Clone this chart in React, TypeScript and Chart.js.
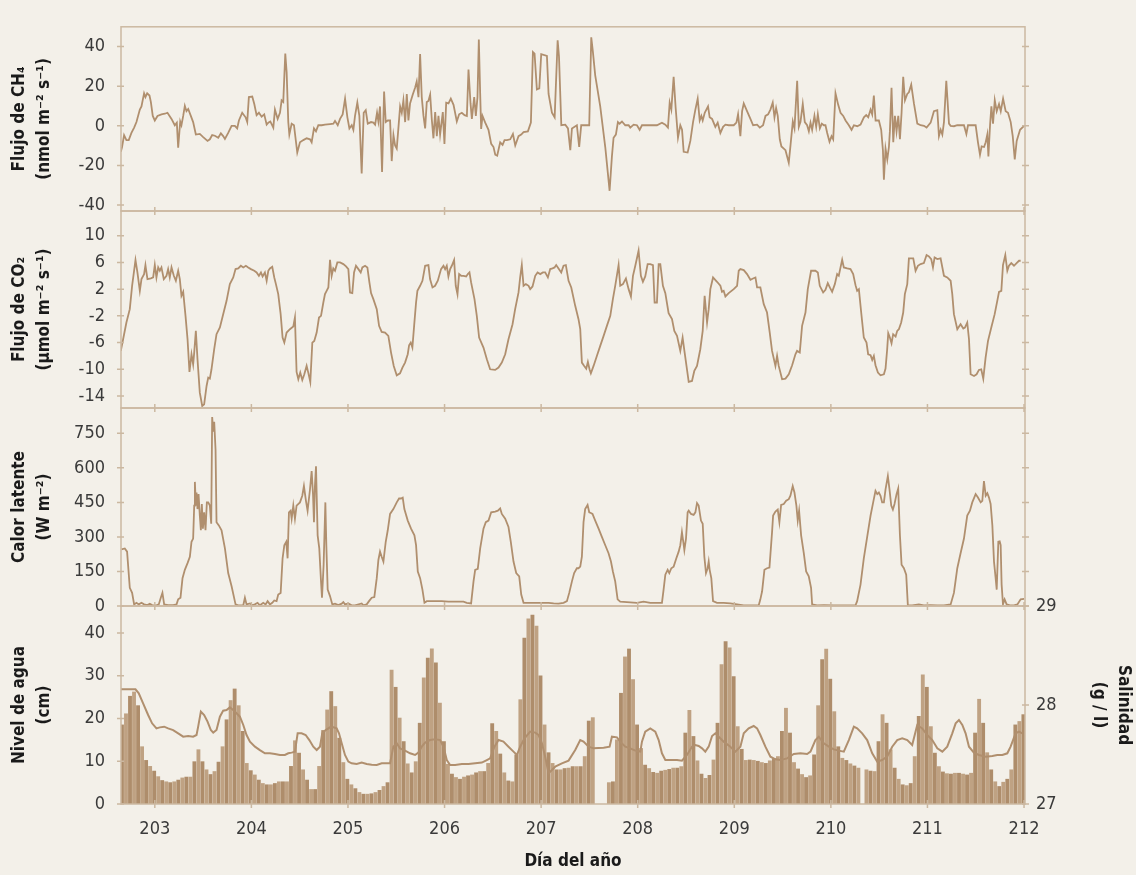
import React, { useEffect, useRef } from 'react';
import { Chart, registerables } from 'chart.js';

Chart.register(...registerables);

// ---------------- DATA ----------------
const dayTicks = [203, 204, 205, 206, 207, 208, 209, 210, 211, 212];
const ch4Ticks = [-40, -20, 0, 20, 40];
const co2Ticks = [-14, -10, -6, -2, 2, 6, 10];
const leTicks = [0, 150, 300, 450, 600, 750];
const waterTicks = [0, 10, 20, 30, 40];
const salTicks = [27, 28, 29];

// CH4 flux (nmol m-2 s-1)
const ch4Day = [
  202.648, 202.661, 202.682, 202.706, 202.73, 202.758, 202.786, 202.81, 202.845, 202.862, 202.889, 202.903, 202.921, 202.945, 202.959, 202.979,
  203.0, 203.028, 203.069, 203.104, 203.131, 203.173, 203.207, 203.228, 203.242, 203.263, 203.276, 203.294, 203.311, 203.328, 203.346, 203.373,
  203.397, 203.425, 203.466, 203.501, 203.546, 203.57, 203.594, 203.622, 203.657, 203.684, 203.708, 203.726, 203.76, 203.795, 203.829, 203.853,
  203.871, 203.905, 203.94, 203.957, 203.974, 204.009, 204.03, 204.054, 204.078, 204.106, 204.133, 204.158, 204.175, 204.196, 204.227, 204.244,
  204.272, 204.296, 204.313, 204.33, 204.351, 204.365, 204.382, 204.393, 204.417, 204.441, 204.475, 204.503, 204.538, 204.572, 204.607, 204.624,
  204.648, 204.669, 204.693, 204.728, 204.762, 204.814, 204.849, 204.866, 204.894, 204.918, 204.945, 204.97, 204.994, 205.015, 205.039, 205.056,
  205.073, 205.097, 205.118, 205.142, 205.163, 205.184, 205.205, 205.239, 205.263, 205.281, 205.301, 205.315, 205.332, 205.353, 205.374, 205.391,
  205.412, 205.436, 205.453, 205.471, 205.488, 205.505, 205.522, 205.54, 205.557, 205.574, 205.592, 205.609, 205.626, 205.643, 205.671, 205.695,
  205.712, 205.73, 205.747, 205.764, 205.782, 205.799, 205.816, 205.833, 205.851, 205.868, 205.885, 205.903, 205.92, 205.937, 205.954, 205.982,
  205.999, 206.017, 206.041, 206.065, 206.093, 206.127, 206.151, 206.179, 206.207, 206.231, 206.248, 206.269, 206.283, 206.307, 206.324, 206.341,
  206.355, 206.369, 206.379, 206.393, 206.421, 206.455, 206.483, 206.507, 206.525, 206.545, 206.576, 206.601, 206.621, 206.646, 206.68, 206.708,
  206.732, 206.766, 206.794, 206.818, 206.863, 206.894, 206.915, 206.932, 206.956, 206.981, 207.001, 207.06, 207.077, 207.112, 207.14, 207.171,
  207.185, 207.209, 207.25, 207.278, 207.302, 207.319,
  207.37, 207.394, 207.415, 207.456, 207.498, 207.519, 207.536, 207.56, 207.612, 207.664, 207.709, 207.733, 207.75, 207.774, 207.795, 207.812,
  207.837, 207.871, 207.906, 207.923, 207.958, 207.992, 208.02, 208.044, 208.096, 208.199, 208.251, 208.286, 208.313, 208.331, 208.348, 208.372,
  208.393, 208.417, 208.441, 208.459, 208.476, 208.517, 208.545, 208.573, 208.597, 208.621, 208.642, 208.659, 208.673, 208.694, 208.728, 208.745,
  208.77, 208.804, 208.828, 208.856, 208.884, 208.908, 208.942, 208.994, 209.022, 209.039, 209.063, 209.081, 209.098, 209.132, 209.167, 209.195,
  209.236, 209.264, 209.298, 209.323, 209.35, 209.374, 209.398, 209.416, 209.433, 209.45, 209.471, 209.488, 209.53, 209.564, 209.582, 209.606,
  209.623, 209.651, 209.668, 209.685, 209.709, 209.73, 209.754, 209.772, 209.789, 209.806, 209.83, 209.848, 209.865, 209.886, 209.906, 209.927,
  209.944, 209.962, 209.986, 210.007, 210.024, 210.048, 210.076, 210.1, 210.128, 210.152, 210.186, 210.214, 210.238, 210.273, 210.307, 210.342,
  210.366, 210.387, 210.411, 210.428, 210.445, 210.463, 210.497, 210.521, 210.539, 210.549, 210.566, 210.584, 210.601, 210.611, 210.628, 210.646,
  210.663, 210.68, 210.698, 210.715, 210.732, 210.749, 210.767, 210.791, 210.808, 210.832, 210.86, 210.895, 210.929, 210.964, 210.991, 211.033,
  211.067, 211.102, 211.119, 211.137, 211.154, 211.171, 211.195, 211.223, 211.24, 211.275, 211.309, 211.378, 211.403, 211.42, 211.499, 211.523,
  211.544, 211.561, 211.586, 211.603, 211.62, 211.631, 211.648, 211.662, 211.679, 211.697, 211.717, 211.741, 211.759, 211.783, 211.81, 211.834,
  211.862, 211.883, 211.904, 211.924, 211.959, 212.0,
];
const ch4Flux = [
  -13.1, -10.7, -4.7, -7.2, -7.2, -3.6, -0.9, 1.9, 8.2, 9.8, 16.4, 14.5, 16.4, 15.3, 12.1, 5.0,
  2.7, 5.0, 5.8, 6.1, 6.6, 3.5, 0.3, 1.6, -11.0, 2.2, 0.3, 5.0, 10.1, 7.4, 8.5, 5.0,
  1.9, -4.4, -4.1, -5.7, -7.6, -6.8, -4.7, -5.0, -6.0, -3.8, -5.2, -6.6, -3.6, 0, 0, -1.3,
  2.7, 6.6, 4.3, 1.9, 14.5, 14.8, 11.0, 5.4, 6.6, 4.6, 5.8, 0.6, 1.6, 2.2, -0.9, 8.2,
  3.5, 6.6, 12.9, 12.1, 36.5, 27.1, 1.9, -4.4, 1.1, 0.3, -13.5, -8.3, -7.2, -6.3, -6.8, -8.3,
  -1.3, -2.8, 0.3, 0.3, 0.6, 0.9, 1.1, 2.5, 0.3, 3.5, 5.8, 13.7, 4.3, -1.3, 0.3, -2.0,
  5.0, 11.7, 5.0, -24.1, 6.6, 7.9, 1.1, 1.9, 1.6, 0.6, 6.6, 2.2, 9.8, -23.3, 17.3, 1.9,
  2.7, 2.7, -17.8, -4.7, -9.9, -11.5, -1.3, 9.8, 6.6, 12.9, 1.9, 16.1, 2.7, 11.3, 15.8, 19.2,
  22.4, 14.5, 36.2, 14.5, 5.0, -1.3, 12.0, 12.6, 15.8, 3.2, -6.3, 6.9, -5.2, 5.0, -4.4, 6.9,
  -9.1, 11.7, 11.3, 13.7, 10.6, 2.2, 5.8, 6.6, 5.4, 5.0, 28.4, 11.3, 3.5, 14.5, 5.0, 14.5,
  43.6, 16.1, -1.6, 5.0, 1.6, -2.0, -9.1, -10.7, -14.6, -15.1, -8.3, -9.6, -7.2, -7.2, -6.8, -4.1,
  -9.9, -5.2, -4.4, -3.2, -2.8, 1.6, 37.3, 36.5, 18.4, 18.9, 36.2, 35.3, 16.1, 6.6, 4.3, 43.2,
  35.0, 0.3, 0.6, -1.3, -12.3, -1.3,
  0.3, -10.7, 0.3, 0.3, 0.3, 44.7, 37.3, 25.5, 9.8, -10.7, -32.8, -15.4, -6.0, -4.4, 1.9, 1.1,
  2.2, 0.3, 0.3, -0.9, 0.6, 0.3, -2.0, 0.3, 0.3, 0.3, 1.6, 0.6, -0.9, 11.7, 8.2, 24.7,
  9.0, -6.0, 0.3, -2.0, -13.1, -13.5, -7.6, 1.9, 8.2, 13.7, 2.7, 5.0, 2.7, 6.6, 9.8, 4.3,
  3.5, -0.5, 1.6, -3.6, -0.5, 0.6, 0.3, 0.3, 1.6, 5.8, -5.2, 7.4, 11.3, 7.4, 3.5, 0.3,
  0.6, -0.9, 0.3, 5.0, 5.8, 8.2, 11.7, 4.3, 9.0, 5.0, -6.8, -10.4, -12.3, -18.6, -9.9, 2.2,
  -1.3, 22.7, -0.5, 1.9, 11.0, 1.9, 0.3, -2.8, 1.6, -2.0, 5.0, -0.5, 5.8, -1.3, 1.1, 0.3,
  0.3, -3.6, -8.0, -5.2, -6.8, 16.4, 10.6, 6.6, 5.0, 2.7, 0.3, -2.0, 0.3, -0.2, 0.6, 4.3,
  5.4, 4.3, 8.2, 5.8, 15.3, 2.7, 2.7, -2.0, -12.3, -27.2, -11.5, -17.0, -10.7, -2.8, 19.2, -8.3,
  5.0, -2.8, 5.0, -6.8, 6.6, 24.7, 12.9, 16.1, 16.9, 20.8, 11.3, 1.1, 0.3, 0, -0.9, 1.6,
  7.4, 7.9, -5.2, -2.0, -4.4, 1.9, 22.7, 1.1, 0, -0.2, 0.3, 0.3, -4.1, 0.3, 0.3, -8.3,
  -14.6, -10.4, -10.7, -8.3, -4.4, -15.4, 0.3, 9.8, 1.1, 12.9, 7.4, 11.0, 7.4, 13.7, 7.4, 6.6,
  1.9, -5.2, -17.0, -7.6, -2.0, 0,
];

// CO2 flux (µmol m-2 s-1)
const co2Day = [
  202.648, 202.672, 202.706, 202.741, 202.765, 202.8, 202.82, 202.845, 202.862, 202.889, 202.903, 202.924, 202.959, 202.983, 203.0, 203.017,
  203.035, 203.052, 203.069, 203.093, 203.121, 203.138, 203.155, 203.173, 203.197, 203.218, 203.242, 203.259, 203.276, 203.294, 203.318, 203.339,
  203.359, 203.38, 203.397, 203.408, 203.425, 203.442, 203.466, 203.491, 203.511, 203.536, 203.553, 203.57, 203.587, 203.615, 203.639, 203.674,
  203.708, 203.743, 203.777, 203.812, 203.836, 203.864, 203.891, 203.916, 203.943, 203.967, 203.995, 204.03, 204.054, 204.078, 204.099, 204.116,
  204.14, 204.158, 204.175, 204.192, 204.216, 204.237, 204.254, 204.278, 204.303, 204.323, 204.341, 204.365, 204.399, 204.434, 204.451, 204.468,
  204.486, 204.506, 204.527, 204.548, 204.572, 204.589, 204.61, 204.631, 204.651, 204.676, 204.7, 204.721, 204.745, 204.762, 204.779, 204.797,
  204.814, 204.831, 204.848, 204.866, 204.89, 204.918, 204.952, 204.98, 205.004, 205.021, 205.045, 205.063, 205.083, 205.108, 205.132, 205.149,
  205.177, 205.201, 205.222, 205.239, 205.263, 205.298, 205.322, 205.349, 205.384, 205.418, 205.446, 205.474, 205.505, 205.539, 205.564, 205.591,
  205.619, 205.633, 205.65, 205.667, 205.685, 205.705, 205.719, 205.747, 205.771, 205.799, 205.833, 205.85, 205.875, 205.902, 205.93, 205.964,
  205.989, 206.006, 206.023, 206.04, 206.058, 206.075, 206.099, 206.116, 206.134, 206.151, 206.172, 206.196, 206.224, 206.241, 206.258, 206.275,
  206.31, 206.334, 206.358, 206.403, 206.438, 206.472, 206.524, 206.559, 206.593, 206.628, 206.662, 206.704, 206.731, 206.766, 206.783, 206.8,
  206.818, 206.842, 206.87, 206.887, 206.911, 206.939, 206.963, 206.991, 207.018, 207.042, 207.07, 207.094, 207.118, 207.139, 207.156, 207.18,
  207.208, 207.232, 207.256, 207.284, 207.312,
  207.353, 207.387, 207.405, 207.422, 207.446, 207.467, 207.484, 207.501, 207.515, 207.543, 207.577, 207.612, 207.647, 207.681, 207.716, 207.743,
  207.767, 207.802, 207.819, 207.847, 207.878, 207.906, 207.93, 207.951, 207.975, 208.009, 208.033, 208.054, 208.078, 208.103, 208.13, 208.158,
  208.175, 208.199, 208.217, 208.234, 208.261, 208.286, 208.32, 208.355, 208.379, 208.407, 208.441, 208.465, 208.486, 208.528, 208.562, 208.586,
  208.614, 208.648, 208.673, 208.693, 208.718, 208.735, 208.752, 208.78, 208.821, 208.856, 208.873, 208.89, 208.908, 208.942, 208.994, 209.029,
  209.046, 209.063, 209.098, 209.132, 209.167, 209.194, 209.219, 209.236, 209.27, 209.305, 209.339, 209.367, 209.391, 209.426, 209.443, 209.46,
  209.495, 209.53, 209.564, 209.599, 209.633, 209.65, 209.678, 209.702, 209.737, 209.761, 209.795, 209.84, 209.865, 209.885, 209.92, 209.944,
  209.968, 209.989, 210.013, 210.041, 210.065, 210.082, 210.1, 210.117, 210.134, 210.169, 210.203, 210.231, 210.255, 210.272, 210.29, 210.314,
  210.341, 210.369, 210.386, 210.411, 210.428, 210.445, 210.462, 210.487, 210.514, 210.549, 210.566, 210.583, 210.594, 210.611, 210.628, 210.645,
  210.67, 210.687, 210.704, 210.728, 210.749, 210.766, 210.791, 210.808, 210.853, 210.877, 210.901, 210.929, 210.963, 210.991, 211.015, 211.039,
  211.057, 211.074, 211.102, 211.136, 211.171, 211.205, 211.24, 211.257, 211.274, 211.309, 211.343, 211.371, 211.388, 211.412, 211.43, 211.447,
  211.482, 211.509, 211.533, 211.557, 211.578, 211.602, 211.627, 211.661, 211.696, 211.723, 211.741, 211.765, 211.782, 211.806, 211.827, 211.844,
  211.868, 211.896, 211.923, 211.948, 211.965,
];
const co2Flux = [
  -7.25, -5.5, -3.0, -1.0, 2.5, 6.35, 4.5, 1.75, 3.5, 4.25, 5.6, 3.5, 3.6, 3.75, 5.6, 3.75,
  5.25, 4.75, 5.25, 3.5, 4.0, 5.0, 3.75, 5.25, 4.0, 3.25, 4.75, 3.5, 1.0, 1.6, -2.0, -5.5,
  -10.4, -7.75, -9.25, -7.5, -4.25, -8.5, -13.5, -15.5, -15.25, -12.5, -11.25, -11.4, -10.0, -7.0, -4.75, -3.75,
  -1.75, 0.25, 2.75, 3.75, 5.0, 5.1, 5.5, 5.25, 5.5, 5.25, 5.0, 4.75, 4.5, 4.0, 4.5, 3.9,
  4.5, 3.25, 4.75, 5.1, 5.35, 3.75, 2.75, 1.25, -1.75, -5.25, -6.0, -4.5, -4.0, -3.6, -2.25, -10.4,
  -11.5, -10.5, -11.6, -10.75, -9.5, -10.5, -11.9, -6.0, -5.75, -4.5, -2.25, -2.0, 0, 1.25, 1.75, 2.25,
  6.4, 4.0, 5.1, 4.75, 6.0, 6.0, 5.75, 5.4, 5.0, 1.5, 1.4, 4.5, 5.5, 5.0, 4.5, 5.25,
  5.5, 5.25, 3.0, 1.4, 0.5, -1.0, -3.5, -4.4, -4.5, -5.0, -7.5, -9.5, -10.9, -10.6, -9.75, -9.0,
  -7.75, -6.4, -6.0, -6.75, -3.5, 0, 1.75, 2.5, 3.25, 5.5, 5.6, 3.5, 2.25, 2.5, 3.25, 5.0,
  5.5, 5.0, 5.5, 3.9, 5.0, 5.5, 6.35, 2.5, 1.25, 4.25, 4.0, 4.0, 3.9, 4.25, 4.5, 3.0,
  0.5, -2.0, -5.25, -6.75, -8.5, -10.0, -10.1, -9.75, -9.0, -7.75, -5.5, -3.25, -1.0, 1.5, 3.75, 5.6,
  2.5, 2.75, 2.5, 2.0, 2.4, 4.0, 4.5, 4.25, 4.5, 4.5, 3.75, 5.0, 5.1, 5.25, 5.6, 5.1,
  4.5, 5.5, 5.6, 3.25, 2.25,
  -0.5, -2.5, -4.0, -9.0, -9.5, -9.9, -8.9, -10.0, -10.6, -9.5, -8.0, -6.5, -5.0, -3.5, -2.0, 0.5,
  2.5, 5.6, 2.5, 2.75, 3.6, 2.0, 0.9, 4.0, 5.5, 7.75, 4.0, 3.1, 3.9, 5.75, 5.75, 5.6,
  0, 0, 5.75, 5.75, 2.5, 1.4, -1.6, -2.5, -4.25, -5.0, -7.25, -5.25, -7.5, -11.9, -11.75, -10.25,
  -9.5, -7.0, -4.25, 1.0, -3.0, -1.0, 2.0, 3.75, 3.1, 2.5, 1.6, 1.75, 0.9, 1.4, 2.0, 2.5,
  4.75, 5.0, 4.85, 4.25, 3.4, 3.6, 3.75, 2.25, 2.25, -0.25, -1.5, -4.5, -7.25, -9.5, -8.0, -9.5,
  -11.5, -11.4, -10.75, -9.4, -7.75, -7.25, -7.5, -3.5, -1.5, 2.0, 4.75, 4.75, 4.5, 2.5, 1.5, 1.9,
  2.9, 2.25, 1.6, 2.75, 4.25, 4.0, 5.25, 6.4, 5.25, 5.1, 5.0, 4.25, 2.6, 1.75, 2.0, -1.5,
  -5.25, -6.0, -7.75, -7.9, -8.6, -8.0, -9.4, -10.5, -10.9, -10.75, -9.9, -7.0, -4.6, -5.25, -6.1, -4.75,
  -5.1, -4.25, -4.0, -3.0, -1.5, 1.25, 2.75, 6.6, 6.6, 4.75, 5.5, 5.75, 5.9, 7.1, 6.9, 6.5,
  5.25, 6.75, 6.5, 6.6, 4.0, 3.75, 3.25, 1.25, -1.75, -4.0, -3.25, -3.9, -3.75, -3.0, -5.5, -10.75,
  -11.0, -10.75, -10.1, -10.0, -11.4, -8.25, -5.75, -3.75, -1.75, 0.25, 1.6, 1.75, 5.6, 7.1, 4.75, 5.5,
  5.9, 5.5, 5.9, 6.25, 6.25,
];

// Latent heat (W m-2)
const leDay = [
  202.655, 202.689, 202.713, 202.741, 202.765, 202.786, 202.81, 202.834, 202.862, 202.889, 202.924, 202.948, 202.972, 203.017, 203.041, 203.062,
  203.079, 203.097, 203.138, 203.19, 203.225, 203.242, 203.266, 203.287, 203.311, 203.339, 203.363, 203.38, 203.397, 203.408, 203.415, 203.425,
  203.432, 203.442, 203.453, 203.466, 203.477, 203.487, 203.498, 203.511, 203.525, 203.539, 203.553, 203.57, 203.584, 203.594, 203.605, 203.615,
  203.629, 203.639, 203.663, 203.691, 203.726, 203.76, 203.795, 203.836, 203.864, 203.916, 203.933, 203.95, 203.985, 204.009, 204.036, 204.064,
  204.088, 204.123, 204.147, 204.168, 204.192, 204.216, 204.237, 204.261, 204.278, 204.303, 204.323, 204.341, 204.361, 204.375, 204.389, 204.406,
  204.417, 204.434, 204.451, 204.468, 204.503, 204.527, 204.544, 204.565, 204.582, 204.607, 204.624, 204.638, 204.648, 204.658, 204.669, 204.686,
  204.703, 204.721, 204.731, 204.748, 204.766, 204.776, 204.79, 204.814, 204.838, 204.866, 204.9, 204.935, 204.952, 204.969, 205.004, 205.038,
  205.073, 205.142, 205.159, 205.194, 205.218, 205.246, 205.273, 205.298, 205.315, 205.332, 205.349, 205.367, 205.391, 205.412, 205.436, 205.47,
  205.505, 205.529, 205.55, 205.567, 205.584, 205.619, 205.653, 205.688, 205.705, 205.723, 205.747, 205.771, 205.792, 205.816, 205.902, 205.971,
  206.04, 206.11, 206.196, 206.23, 206.275, 206.3, 206.317, 206.344, 206.369, 206.403, 206.427, 206.455, 206.483, 206.524, 206.552, 206.576,
  206.593, 206.628, 206.662, 206.686, 206.714, 206.742, 206.773, 206.794, 206.818, 206.87, 206.939, 207.008, 207.077, 207.129, 207.18, 207.232,
  207.267, 207.291, 207.319,
  207.342, 207.37, 207.387, 207.405, 207.422, 207.439, 207.456, 207.481, 207.498, 207.515, 207.532, 207.56, 207.595, 207.629, 207.664, 207.698,
  207.723, 207.743, 207.767, 207.792, 207.819, 207.888, 207.992, 208.061, 208.13, 208.199, 208.251, 208.268, 208.286, 208.31, 208.327, 208.348,
  208.372, 208.4, 208.424, 208.441, 208.458, 208.472, 208.483, 208.5, 208.517, 208.528, 208.552, 208.579, 208.597, 208.614, 208.631, 208.655,
  208.673, 208.69, 208.707, 208.724, 208.735, 208.745, 208.762, 208.78, 208.821, 208.89, 208.959, 209.029, 209.098, 209.167, 209.253, 209.27,
  209.288, 209.312, 209.339, 209.364, 209.391, 209.402, 209.426, 209.45, 209.467, 209.485, 209.512, 209.537, 209.564, 209.581, 209.605, 209.623,
  209.643, 209.657, 209.671, 209.692, 209.72, 209.744, 209.771, 209.795, 209.806, 209.858, 209.927, 210.03, 210.134, 210.255, 210.272, 210.307,
  210.341, 210.376, 210.411, 210.438, 210.462, 210.48, 210.497, 210.514, 210.531, 210.549, 210.566, 210.59, 210.607, 210.625, 210.642, 210.659,
  210.68, 210.697, 210.715, 210.732, 210.756, 210.78, 210.797, 210.842, 210.911, 210.963, 211.032, 211.102, 211.171, 211.24, 211.274, 211.309,
  211.343, 211.378, 211.412, 211.44, 211.464, 211.499, 211.523, 211.551, 211.568, 211.585, 211.603, 211.62, 211.637, 211.654, 211.672, 211.689,
  211.706, 211.717, 211.734, 211.748, 211.758, 211.768, 211.782, 211.799, 211.82, 211.855, 211.896, 211.931, 211.965, 212.0,
];
const leFlux = [
  246, 250, 236, 79, 57, 7, 14, 7, 14, 7, 4, 10, 4, 3, 7, 36,
  57, 7, 4, 4, 7, 29, 36, 121, 157, 186, 214, 279, 293, 436, 539, 436,
  493, 421, 486, 393, 329, 443, 336, 407, 329, 450, 450, 436, 357, 821, 757, 800,
  679, 364, 350, 329, 250, 143, 86, 7, 3, 3, 36, 7, 11, 3, 7, 14,
  3, 14, 7, 21, 7, 14, 24, 21, 50, 57, 207, 264, 279, 207, 407, 414,
  379, 436, 379, 436, 450, 479, 521, 457, 414, 507, 586, 486, 364, 521, 607, 307,
  250, 107, 36, 179, 450, 264, 71, 43, 7, 10, 4, 10, 17, 7, 11, 3,
  3, 11, 3, 7, 21, 36, 39, 121, 200, 236, 214, 193, 279, 329, 400, 421,
  450, 467, 467, 471, 421, 371, 336, 307, 264, 150, 121, 71, 14, 21, 21, 21,
  19, 19, 19, 14, 11, 107, 157, 161, 250, 336, 364, 371, 407, 410, 414, 424,
  400, 379, 343, 279, 193, 143, 129, 50, 14, 14, 14, 14, 14, 11, 10, 14,
  21, 57, 107,
  143, 164, 164, 171, 214, 364, 421, 439, 407, 404, 400, 371, 336, 300, 264, 229,
  193, 150, 107, 29, 19, 17, 14, 19, 14, 14, 14, 71, 136, 157, 143, 164,
  171, 207, 236, 264, 321, 279, 243, 293, 407, 414, 400, 396, 407, 447, 436, 371,
  357, 214, 143, 164, 193, 157, 121, 21, 14, 14, 11, 7, 3, 3, 3, 29,
  64, 157, 164, 167, 321, 393, 410, 419, 364, 439, 443, 457, 464, 479, 521, 493,
  436, 371, 414, 307, 229, 150, 129, 79, 7, 3, 4, 3, 3, 3, 21, 93,
  207, 300, 393, 450, 500, 486, 493, 479, 450, 450, 507, 564, 507, 436, 419, 443,
  486, 510, 307, 179, 164, 136, 4, 3, 7, 3, 4, 3, 3, 7, 57, 164,
  229, 293, 393, 414, 450, 486, 471, 450, 457, 543, 479, 490, 471, 443, 350, 193,
  121, 71, 279, 281, 264, 93, 7, 29, 7, 3, 3, 7, 29, 31,
];

// Water level (cm), hourly samples starting at day 202.66
const WATER_START = 202.66;
const WATER_STEP = 1 / 24;
const waterLevel = [
  18.5, 21.1, 25.2, 26.2, 23.0, 13.4, 10.2, 8.8, 7.7, 6.4, 5.5, 5.2, 5.0, 5.2, 5.6, 6.1,
  6.3, 6.3, 9.9, 12.7, 9.9, 8.0, 6.9, 7.6, 9.8, 13.4, 19.7, 24.2, 26.9, 23.0, 17.0, 9.5,
  7.8, 6.8, 5.6, 4.8, 4.5, 4.5, 4.8, 5.2, 5.2, 5.2, 8.8, 14.8, 11.9, 8.0, 5.6, 3.4,
  3.4, 8.8, 17.2, 22.0, 26.3, 22.8, 15.4, 9.7, 5.8, 4.5, 3.6, 2.7, 2.3, 2.3, 2.4, 2.7,
  3.2, 4.1, 5.0, 31.3, 27.3, 20.1, 14.6, 9.4, 7.3, 9.9, 18.9, 29.5, 34.1, 36.3, 33.0, 23.6,
  14.6, 9.3, 7.0, 6.2, 5.8, 6.3, 6.6, 6.8, 7.3, 7.6, 7.6, 9.5, 18.8, 17.0, 11.7, 7.3,
  5.4, 5.2, 11.5, 24.4, 38.8, 43.3, 44.2, 41.6, 30.0, 18.5, 12.0, 9.5, 8.0, 8.0, 8.3, 8.4,
  8.75, 8.75, 8.75, 11.1, 19.4, 20.2, null, null, null, 5.0, 5.2, 15.0, 25.9, 34.4, 36.25, 29.1,
  18.5, 13.0, 9.1, 8.3, 7.4, 7.2, 7.7, 7.9, 8.1, 8.4, 8.4, 8.75, 16.6, 21.9, 15.8, 10.1,
  7.0, 6.0, 6.7, 10.3, 18.9, 32.6, 38.0, 36.5, 29.8, 18.1, 12.8, 10.2, 10.3, 10.2, 10.0, 9.7,
  9.5, 10.1, 10.6, 11.1, 17.0, 22.4, 16.6, 9.7, 8.2, 6.9, 6.2, 6.6, 11.5, 23.0, 33.75, 36.25,
  29.2, 21.6, 13.4, 10.7, 10.2, 9.4, 8.9, 8.4, null, 8.0, 7.7, 7.6, 14.6, 20.9, 18.9, 12.7,
  8.4, 5.8, 4.5, 4.3, 4.8, 11.1, 20.5, 30.2, 27.3, 18.1, 11.9, 8.75, 7.5, 7.1, 7.0, 7.2,
  7.2, 7.0, 6.8, 7.2, 16.6, 24.5, 18.9, 12.0, 8.0, 5.2, 4.1, 5.1, 5.8, 8.0, 18.5, 19.3,
  20.9,
];

// Salinity (g/l)
const salDay = [
  202.648, 202.724, 202.8, 202.834, 202.879, 202.931, 202.972, 203.017, 203.052, 203.097, 203.138, 203.19, 203.242, 203.294, 203.346, 203.397,
  203.432, 203.449, 203.477, 203.511, 203.546, 203.58, 203.605, 203.639, 203.674, 203.708, 203.743, 203.777, 203.812, 203.846, 203.881, 203.916,
  203.95, 203.985, 204.037, 204.088, 204.14, 204.192, 204.244, 204.296, 204.347, 204.382, 204.417, 204.451, 204.479, 204.52, 204.562, 204.6,
  204.641, 204.676, 204.71, 204.734, 204.769, 204.814, 204.849, 204.883, 204.907, 204.935, 204.969, 205.004, 205.038, 205.09, 205.142, 205.194,
  205.246, 205.298, 205.349, 205.401, 205.436, 205.47, 205.505, 205.539, 205.591, 205.643, 205.695, 205.729, 205.764, 205.799, 205.85, 205.902,
  205.954, 205.989, 206.023, 206.058, 206.11, 206.179, 206.248, 206.317, 206.386, 206.438, 206.472, 206.517, 206.559, 206.61, 206.662, 206.714,
  206.749, 206.783, 206.828, 206.887, 206.939, 206.973, 207.008, 207.042, 207.077, 207.112, 207.146, 207.215, 207.284, 207.353,
  207.405, 207.439, 207.491, 207.543, 207.647, 207.709, 207.733, 207.785, 207.819, 207.871, 207.923, 207.975, 208.027, 208.044, 208.078, 208.13,
  208.182, 208.217, 208.251, 208.286, 208.338, 208.407, 208.458, 208.51, 208.562, 208.597, 208.631, 208.666, 208.7, 208.735, 208.77, 208.804,
  208.839, 208.89, 208.959, 209.011, 209.063, 209.098, 209.149, 209.201, 209.236, 209.27, 209.322, 209.374, 209.426, 209.478, 209.547, 209.616,
  209.685, 209.754, 209.789, 209.84, 209.875, 209.927, 209.979, 210.03, 210.082, 210.134, 210.186, 210.238, 210.272, 210.324, 210.376, 210.428,
  210.479, 210.531, 210.583, 210.635, 210.687, 210.739, 210.791, 210.842, 210.894, 210.946, 210.998, 211.05, 211.102, 211.154, 211.205, 211.257,
  211.292, 211.326, 211.361, 211.395, 211.43, 211.481, 211.533, 211.602, 211.672, 211.723, 211.775, 211.827, 211.861, 211.913, 211.948, 211.982,
];
const salinity = [
  28.158, 28.158, 28.158, 28.118, 28.017, 27.899, 27.815, 27.764, 27.774, 27.781, 27.764, 27.747, 27.714, 27.68, 27.687, 27.68,
  27.697, 27.781, 27.933, 27.899, 27.832, 27.747, 27.721, 27.747, 27.882, 27.943, 27.949, 27.976, 27.949, 27.916, 27.882, 27.798,
  27.697, 27.63, 27.579, 27.545, 27.512, 27.512, 27.505, 27.495, 27.495, 27.512, 27.519, 27.529, 27.714, 27.714, 27.697, 27.646,
  27.579, 27.545, 27.579, 27.714, 27.747, 27.774, 27.774, 27.764, 27.714, 27.613, 27.495, 27.428, 27.411, 27.404, 27.418, 27.404,
  27.397, 27.394, 27.411, 27.411, 27.411, 27.579, 27.613, 27.562, 27.539, 27.512, 27.495, 27.519, 27.579, 27.62, 27.646, 27.653,
  27.646, 27.579, 27.444, 27.394, 27.394, 27.404, 27.404, 27.411, 27.418, 27.444, 27.461, 27.579, 27.646, 27.63, 27.579, 27.529,
  27.495, 27.579, 27.663, 27.731, 27.721, 27.697, 27.613, 27.478, 27.31, 27.343, 27.377, 27.411, 27.438, 27.545,
  27.646, 27.63, 27.579, 27.562, 27.569, 27.579, 27.68, 27.673, 27.63, 27.579, 27.562, 27.539, 27.529, 27.63, 27.731, 27.764,
  27.731, 27.646, 27.512, 27.444, 27.444, 27.444, 27.438, 27.495, 27.579, 27.596, 27.586, 27.562, 27.529, 27.579, 27.687, 27.714,
  27.68, 27.63, 27.579, 27.529, 27.579, 27.714, 27.764, 27.788, 27.764, 27.697, 27.579, 27.478, 27.451, 27.444, 27.461, 27.505,
  27.512, 27.505, 27.529, 27.646, 27.68, 27.613, 27.579, 27.552, 27.539, 27.529, 27.646, 27.781, 27.764, 27.714, 27.646, 27.512,
  27.428, 27.444, 27.478, 27.579, 27.646, 27.663, 27.646, 27.596, 27.798, 27.764, 27.697, 27.646, 27.562, 27.529, 27.579, 27.714,
  27.815, 27.848, 27.798, 27.714, 27.579, 27.519, 27.495, 27.478, 27.485, 27.495, 27.495, 27.512, 27.579, 27.714, 27.731, 27.714,
];

// ---------------- STYLE / LAYOUT ----------------
const W = 1136;
const H = 875;
const PLOT_LEFT = 121;
const PLOT_RIGHT = 1025;
const PANELS: [number, number][] = [[15, 211], [211, 408], [408, 606], [606, 804]];
const X_MIN = 202.65;
const X_MAX = 212.01;
const BG = '#f3f0e9';
const LINE = '#b08f6e';
const BAR_DARK = '#ae8d6b';
const BAR_LIGHT = '#bfa283';
const FRAME = '#cbb8a1';
const FONT = "'Liberation Sans Narrow', 'Arial Narrow', 'DejaVu Sans Condensed', sans-serif";
const TICK_COLOR = '#3a3a3a';
const TITLE_COLOR = '#1a1a1a';

const pts = (xs: number[], ys: (number | null)[]) => xs.map((x, i) => ({ x, y: ys[i] }));

function framePlugin(yTicks: number[], y2Ticks: number[] | null) {
  return {
    id: 'frame',
    afterDatasetsDraw(chart: any) {
      const { ctx, chartArea: a, scales } = chart;
      ctx.save();
      ctx.strokeStyle = FRAME;
      ctx.lineWidth = 1.5;
      ctx.strokeRect(a.left, a.top, a.right - a.left, a.bottom - a.top);
      ctx.beginPath();
      const y = scales.y;
      for (const v of yTicks) {
        const py = y.getPixelForValue(v);
        ctx.moveTo(a.left - 4, py);
        ctx.lineTo(a.left + 3, py);
        if (!y2Ticks) {
          ctx.moveTo(a.right - 3, py);
          ctx.lineTo(a.right + 4, py);
        }
      }
      if (y2Ticks) {
        const y2 = scales.y2;
        for (const v of y2Ticks) {
          const py = y2.getPixelForValue(v);
          ctx.moveTo(a.right - 3, py);
          ctx.lineTo(a.right + 4, py);
        }
      }
      const x = scales.x;
      for (const d of dayTicks) {
        const px = x.getPixelForValue(d);
        ctx.moveTo(px, a.bottom - 4);
        ctx.lineTo(px, a.bottom + 4);
      }
      ctx.stroke();
      ctx.restore();
    },
  };
}

const tickFont = { family: FONT, size: 18 };
const titleFont = { family: FONT, size: 17, weight: 'bold' as const, lineHeight: 25 / 17 };

function leftAxis(min: number, max: number, ticks: number[], title: string[]) {
  return {
    type: 'linear',
    position: 'left',
    min,
    max,
    afterFit: (s: any) => { s.width = PLOT_LEFT; },
    afterBuildTicks: (s: any) => { s.ticks = ticks.map((v) => ({ value: v })); },
    grid: { display: false, drawTicks: false },
    border: { display: false },
    ticks: { padding: 16, font: tickFont, color: TICK_COLOR, autoSkip: false, callback: (v: any) => String(v) },
    title: { display: true, text: title, font: titleFont, color: TITLE_COLOR, padding: { top: 7, bottom: 0 } },
  };
}

function hiddenX() {
  return { type: 'linear', min: X_MIN, max: X_MAX, display: false, offset: false };
}

function baseOptions(panel: number, scales: any, rightAxis: boolean, bottomAxis: boolean) {
  const [top, bottom] = PANELS[panel];
  return {
    responsive: false,
    animation: false,
    devicePixelRatio: 1,
    events: [],
    layout: {
      padding: {
        top,
        bottom: bottomAxis ? 0 : H - bottom,
        left: 0,
        right: rightAxis ? 0 : W - PLOT_RIGHT,
      },
    },
    plugins: { legend: { display: false }, tooltip: { enabled: false } },
    scales,
  };
}

const lineDs = (data: any[], extra: any = {}) => ({
  type: 'line',
  data,
  borderColor: LINE,
  borderWidth: 1.8,
  pointRadius: 0,
  tension: 0,
  fill: false,
  ...extra,
});

export default function App() {
  const r0 = useRef<HTMLCanvasElement>(null);
  const r1 = useRef<HTMLCanvasElement>(null);
  const r2 = useRef<HTMLCanvasElement>(null);
  const r3 = useRef<HTMLCanvasElement>(null);

  useEffect(() => {
    document.body.style.margin = '0';
    document.body.style.background = BG;

    const cfgs: any[] = [
      {
        type: 'line',
        data: { datasets: [lineDs(pts(ch4Day, ch4Flux))] },
        options: baseOptions(0, {
          x: hiddenX(),
          y: leftAxis(-43, 50, ch4Ticks, ['Flujo de CH\u2084', '(nmol m\u207B\u00B2 s\u207B\u00B9)']),
        }, false, false),
        plugins: [framePlugin(ch4Ticks, null)],
      },
      {
        type: 'line',
        data: { datasets: [lineDs(pts(co2Day, co2Flux))] },
        options: baseOptions(1, {
          x: hiddenX(),
          y: leftAxis(-15.8, 13.7, co2Ticks, ['Flujo de CO\u2082', '(\u00B5mol m\u207B\u00B2 s\u207B\u00B9)']),
        }, false, false),
        plugins: [framePlugin(co2Ticks, null)],
      },
      {
        type: 'line',
        data: { datasets: [lineDs(pts(leDay, leFlux))] },
        options: baseOptions(2, {
          x: hiddenX(),
          y: leftAxis(0, 860, leTicks, ['Calor latente', '(W m\u207B\u00B2)']),
        }, false, false),
        plugins: [framePlugin(leTicks, null)],
      },
      {
        type: 'bar',
        data: {
          datasets: [
            lineDs(pts(salDay, salinity), { yAxisID: 'y2', borderWidth: 2, order: 0 }),
            {
              type: 'bar',
              data: waterLevel.map((v, i) => ({ x: WATER_START + i * WATER_STEP, y: v })),
              yAxisID: 'y',
              backgroundColor: waterLevel.map((_, i) => (i % 2 === 0 ? BAR_DARK : BAR_LIGHT)),
              borderWidth: 0,
              barThickness: 3.2,
              order: 1,
            },
          ],
        },
        options: baseOptions(3, {
          x: {
            type: 'linear',
            position: 'bottom',
            min: X_MIN,
            max: X_MAX,
            offset: false,
            afterFit: (s: any) => { s.height = H - PANELS[3][1]; },
            afterBuildTicks: (s: any) => { s.ticks = dayTicks.map((v) => ({ value: v })); },
            grid: { display: false, drawTicks: false },
            border: { display: false },
            ticks: { padding: 15, font: tickFont, color: TICK_COLOR, autoSkip: false, maxRotation: 0, callback: (v: any) => String(v) },
            title: { display: true, text: 'D\u00EDa del a\u00F1o', font: { family: FONT, size: 17, weight: 'bold' }, color: TITLE_COLOR, padding: { top: 0, bottom: 3 } },
          },
          y: leftAxis(0, 46.3, waterTicks, ['Nivel de agua', '(cm)']),
          y2: {
            type: 'linear',
            position: 'right',
            min: 27,
            max: 29,
            afterFit: (s: any) => { s.width = W - PLOT_RIGHT; },
            afterBuildTicks: (s: any) => { s.ticks = salTicks.map((v) => ({ value: v })); },
            grid: { display: false, drawTicks: false },
            border: { display: false },
            ticks: { padding: 11, font: tickFont, color: TICK_COLOR, autoSkip: false, callback: (v: any) => String(v) },
            title: { display: true, text: ['Salinidad', '(g / l)'], font: titleFont, color: TITLE_COLOR, padding: { top: 0, bottom: 0 } },
          },
        }, true, true),
        plugins: [framePlugin(waterTicks, salTicks)],
      },
    ];

    const refs = [r0, r1, r2, r3];
    const charts = cfgs.map((cfg, i) => new Chart(refs[i].current as HTMLCanvasElement, cfg));
    return () => charts.forEach((c) => c.destroy());
  }, []);

  const cstyle: React.CSSProperties = { position: 'absolute', left: 0, top: 0, width: W, height: H };
  return (
    <div style={{ position: 'absolute', left: 0, top: 0, width: W, height: H, background: BG, overflow: 'hidden' }}>
      <canvas ref={r0} width={W} height={H} style={cstyle} />
      <canvas ref={r1} width={W} height={H} style={cstyle} />
      <canvas ref={r2} width={W} height={H} style={cstyle} />
      <canvas ref={r3} width={W} height={H} style={cstyle} />
    </div>
  );
}
